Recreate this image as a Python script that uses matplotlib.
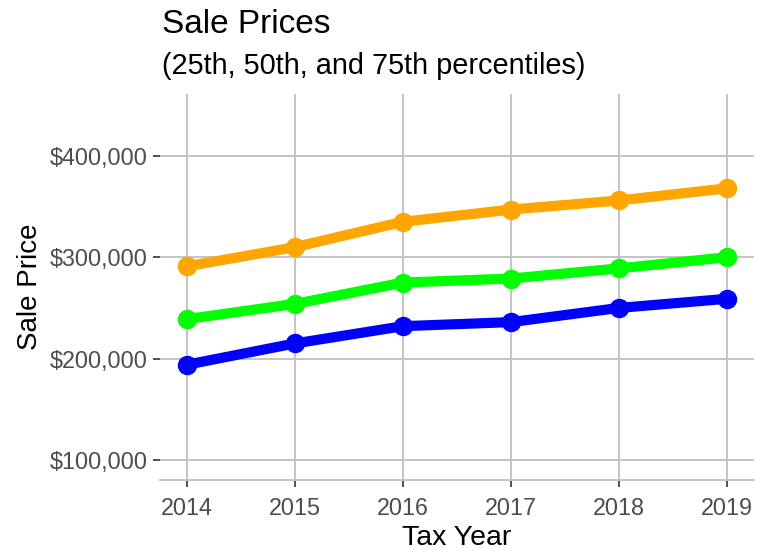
import matplotlib.pyplot as plt
from matplotlib.ticker import FuncFormatter

# Datos
years = [2014, 2015, 2016, 2017, 2018, 2019]
p25 = [194000, 215000, 232000, 236000, 250000, 259000]
p50 = [239000, 254000, 275000, 279000, 289000, 300000]
p75 = [291000, 310000, 335000, 347000, 356000, 368000]
y_ticks = [100000, 200000, 300000, 400000]

plt.rcParams['font.family'] = ['Liberation Sans', 'DejaVu Sans']

fig = plt.figure(figsize=(7.64, 5.51), dpi=100)
ax = fig.add_axes([0.2094, 0.1289, 0.7775, 0.7005])

for serie, color in [(p75, 'orange'), (p50, '#00ff00'), (p25, '#0000ff')]:
    ax.plot(years, serie, color=color, linewidth=7.3, marker='o', markersize=13,
            solid_capstyle='round', zorder=3)

ax.set_xlim(2013.75, 2019.25)
ax.set_ylim(80300, 461000)
ax.set_xticks(years)
ax.set_yticks(y_ticks)
ax.yaxis.set_major_formatter(FuncFormatter(lambda v, p: '${:,.0f}'.format(v)))

ax.grid(True, color='#c4c4c4', linewidth=1.4)
ax.set_axisbelow(True)
for s in ['top', 'right', 'left']:
    ax.spines[s].set_visible(False)
ax.spines['bottom'].set_color('#c4c4c4')
ax.spines['bottom'].set_linewidth(1.4)

ax.tick_params(axis='both', labelsize=16.8, labelcolor='#4d4d4d', color='#333333',
               length=5, width=1.2)
ax.tick_params(axis='x', pad=7)
ax.tick_params(axis='y', pad=4)

ax.set_xlabel('Tax Year', fontsize=20.5, labelpad=4)
ax.set_ylabel('Sale Price', fontsize=20, labelpad=5)

fig.text(0.212, 0.94, 'Sale Prices', fontsize=24, ha='left', va='baseline')
fig.text(0.212, 0.866, '(25th, 50th, and 75th percentiles)', fontsize=20.8,
         ha='left', va='baseline')

fig.savefig('out.png', dpi=100)
